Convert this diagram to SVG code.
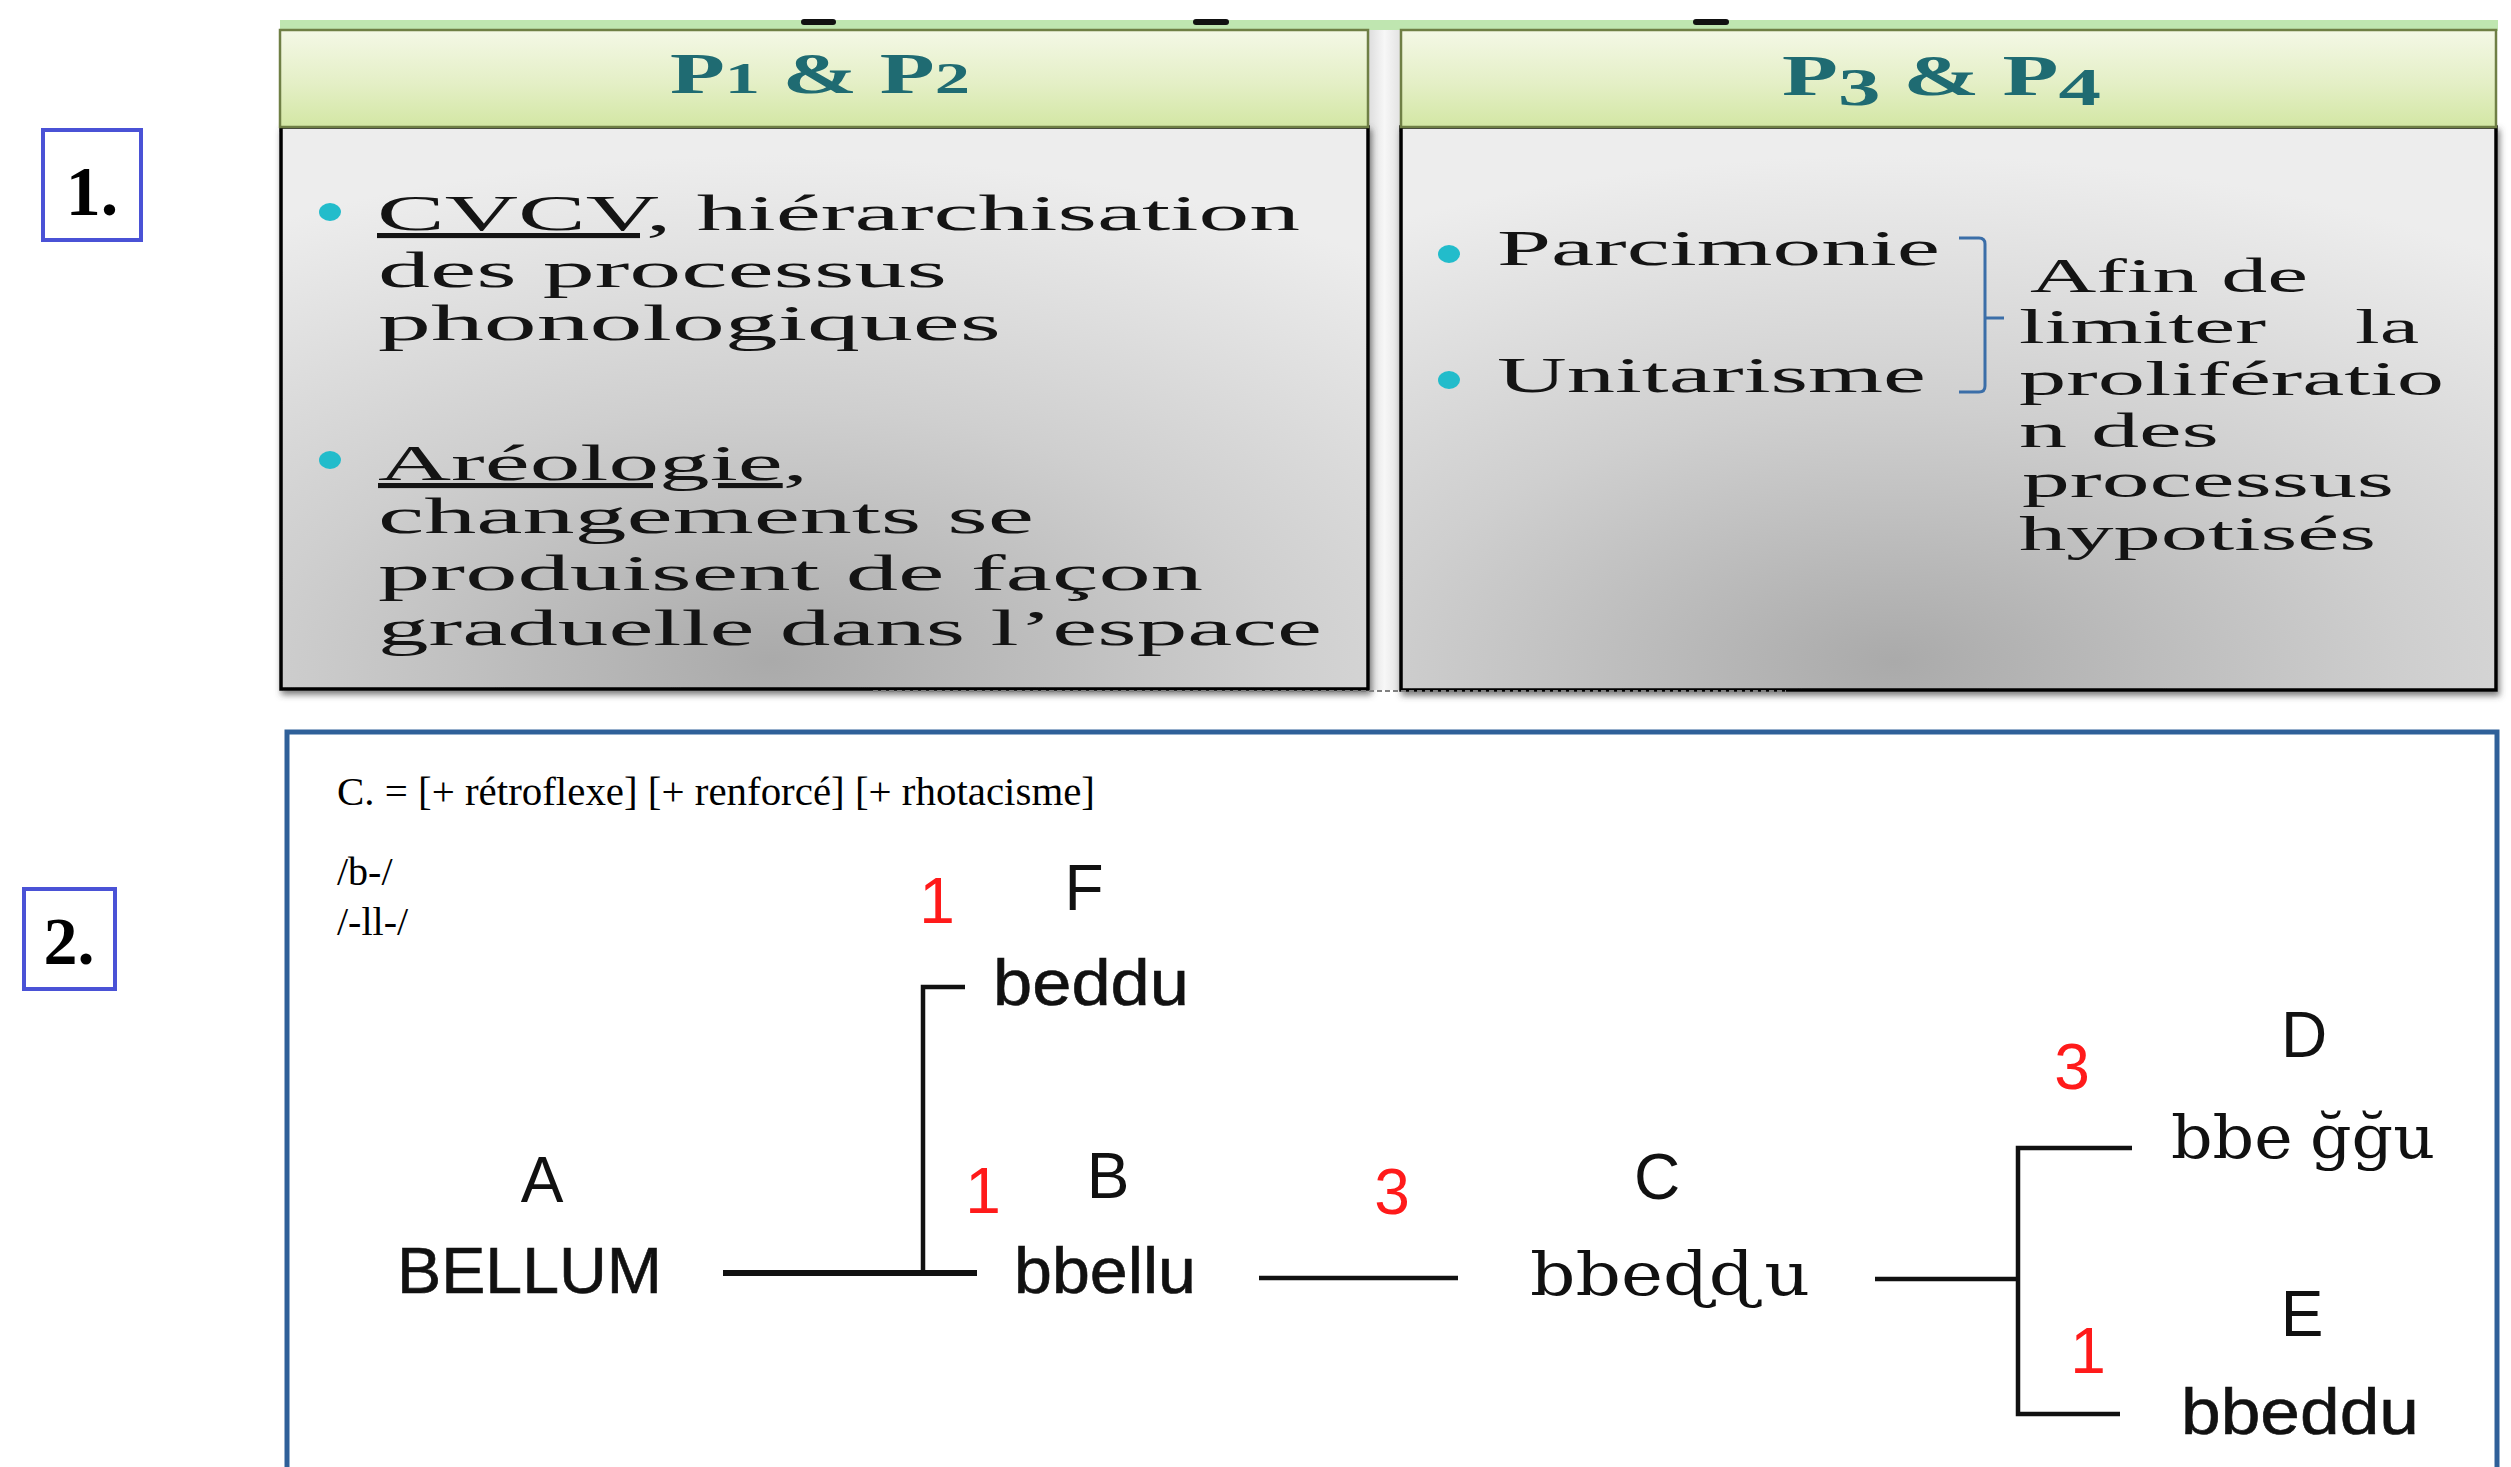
<svg xmlns="http://www.w3.org/2000/svg" width="2511" height="1467" viewBox="0 0 2511 1467">
<defs>
  <linearGradient id="hdr" x1="0" y1="0" x2="0" y2="1">
    <stop offset="0" stop-color="#f4f8e6"/>
    <stop offset="0.55" stop-color="#e4efc6"/>
    <stop offset="1" stop-color="#d3e7a4"/>
  </linearGradient>
  <radialGradient id="body" cx="0.45" cy="1" r="0.95" fx="0.45" fy="0.95">
    <stop offset="0" stop-color="#aaaaaa"/>
    <stop offset="0.5" stop-color="#cfcfcf"/>
    <stop offset="1" stop-color="#ededed"/>
  </radialGradient>
  <linearGradient id="gap" x1="0" y1="0" x2="1" y2="0">
    <stop offset="0" stop-color="#dcdcdc"/>
    <stop offset="0.5" stop-color="#f7f7f7"/>
    <stop offset="1" stop-color="#e2e2e2"/>
  </linearGradient>
  <filter id="shadow" x="-5%" y="-5%" width="110%" height="115%">
    <feDropShadow dx="2" dy="4" stdDeviation="3" flood-color="#444" flood-opacity="0.7"/>
  </filter>
</defs>
<style>
  .lbl{fill:#fff;stroke:#4a52d6;stroke-width:4}
  .lbltx{font-family:"Liberation Serif",serif;font-weight:bold;font-size:70px;fill:#000;text-anchor:middle}
  .hdrbox{fill:url(#hdr);stroke:#6f7f45;stroke-width:2.5}
  .bodybox{fill:url(#body);stroke:#000;stroke-width:3.5}
  .hdr{font-family:"Liberation Serif",serif;font-weight:bold;font-size:56px;fill:#1f6b72}
  .osn{font-size:44px}
  .bt{font-family:"Liberation Serif",serif;font-size:51px;fill:#141414}
  .bt2{font-family:"Liberation Serif",serif;font-size:49px;fill:#141414}
  .ul{text-decoration:underline}
  .bul{fill:#22bccb}
  .note{font-family:"Liberation Serif",serif;font-size:40px;fill:#000}
  .tl{font-family:"Liberation Sans",Arial,sans-serif;font-size:64px;fill:#111;text-anchor:middle}
  .tw{font-family:"Liberation Sans",Arial,sans-serif;font-size:64px;fill:#111;stroke:#111;stroke-width:0.6}
  .ipa{font-family:"DejaVu Serif",serif;font-size:60px;fill:#111}
  .num{font-family:"Liberation Sans",Arial,sans-serif;font-size:64px;fill:#ff1a1a;text-anchor:middle}
  .cn{stroke:#111;stroke-width:4.5;fill:none}
</style>
<rect width="2511" height="1467" fill="#fff"/>

<!-- section labels -->
<g id="label-1">
  <rect class="lbl" x="43" y="130" width="98" height="110"/>
  <text class="lbltx" x="92" y="215">1.</text>
</g>
<g id="label-2">
  <rect class="lbl" x="24" y="889" width="91" height="100"/>
  <text class="lbltx" x="69" y="964" style="font-size:68px">2.</text>
</g>

<!-- top band -->
<g id="top-band">
  <rect x="280" y="20" width="2218" height="11" fill="#bfe6b0"/>
  <rect x="801" y="19" width="35" height="6" rx="3" fill="#111"/>
  <rect x="1193" y="19" width="36" height="6" rx="3" fill="#111"/>
  <rect x="1693" y="19" width="36" height="6" rx="3" fill="#111"/>
  <rect x="1368" y="30" width="33" height="660" fill="url(#gap)"/>
</g>

<!-- panel P1 & P2 -->
<g id="panel-p1p2">
  <rect class="bodybox" x="281" y="127" width="1087" height="562" filter="url(#shadow)"/>
  <rect class="hdrbox" x="280" y="30" width="1088" height="97"/>
  <text class="hdr" x="670" y="93" textLength="300" lengthAdjust="spacingAndGlyphs">P<tspan class="osn">1</tspan> &amp; P<tspan class="osn">2</tspan></text>
  <ellipse class="bul" cx="330" cy="212" rx="11" ry="9"/>
  <text class="bt" x="377" y="230" textLength="923" lengthAdjust="spacingAndGlyphs"><tspan class="ul">CVCV,</tspan> hiérarchisation</text>
  <text class="bt" x="378" y="287" textLength="569" lengthAdjust="spacingAndGlyphs">des processus</text>
  <text class="bt" x="378" y="340" textLength="623" lengthAdjust="spacingAndGlyphs">phonologiques</text>
  <ellipse class="bul" cx="330" cy="460" rx="11" ry="9"/>
  <text class="bt" x="378" y="480" textLength="430" lengthAdjust="spacingAndGlyphs"><tspan class="ul">Aréologie</tspan>,</text>
  <text class="bt" x="378" y="533" textLength="656" lengthAdjust="spacingAndGlyphs">changements se</text>
  <text class="bt" x="378" y="590" textLength="825" lengthAdjust="spacingAndGlyphs">produisent de façon</text>
  <text class="bt" x="378" y="645" textLength="944" lengthAdjust="spacingAndGlyphs">graduelle dans l’espace</text>
</g>

<!-- panel P3 & P4 -->
<g id="panel-p3p4">
  <rect class="bodybox" x="1401" y="127" width="1095" height="563" filter="url(#shadow)"/>
  <rect class="hdrbox" x="1401" y="30" width="1095" height="97"/>
  <text class="hdr" x="1782" y="95" textLength="319" lengthAdjust="spacingAndGlyphs">P<tspan style="font-size:52px" dy="10">3</tspan><tspan dy="-10"> &amp; P</tspan><tspan style="font-size:52px" dy="10">4</tspan></text>
  <ellipse class="bul" cx="1449" cy="254" rx="11" ry="9"/>
  <text class="bt" x="1497" y="265" textLength="443" lengthAdjust="spacingAndGlyphs">Parcimonie</text>
  <ellipse class="bul" cx="1449" cy="380" rx="11" ry="9"/>
  <text class="bt" x="1497" y="392" textLength="429" lengthAdjust="spacingAndGlyphs">Unitarisme</text>
  <path d="M1959,238 L1979,238 Q1985,238 1985,244 L1985,386 Q1985,392 1979,392 L1959,392 M1985,318 L2004,318" fill="none" stroke="#3b6ea8" stroke-width="3"/>
  <text class="bt2" x="2030" y="292" textLength="278" lengthAdjust="spacingAndGlyphs">Afin de</text>
  <text class="bt2" x="2019" y="343" textLength="247" lengthAdjust="spacingAndGlyphs">limiter</text>
  <text class="bt2" x="2355" y="343" textLength="64" lengthAdjust="spacingAndGlyphs">la</text>
  <text class="bt2" x="2019" y="395" textLength="425" lengthAdjust="spacingAndGlyphs">prolifératio</text>
  <text class="bt2" x="2019" y="447" textLength="200" lengthAdjust="spacingAndGlyphs">n des</text>
  <text class="bt2" x="2022" y="497" textLength="372" lengthAdjust="spacingAndGlyphs">processus</text>
  <text class="bt2" x="2019" y="550" textLength="357" lengthAdjust="spacingAndGlyphs">hypotisés</text>
  <line x1="873" y1="691" x2="1786" y2="691" stroke="#808080" stroke-width="2" stroke-dasharray="5 3"/>
</g>

<!-- panel 2 frame and notes -->
<g id="panel-tree">
  <rect x="287" y="732" width="2210" height="800" fill="none" stroke="#2f6099" stroke-width="5"/>
  <text class="note" x="337" y="805" textLength="758" lengthAdjust="spacingAndGlyphs">C. = [+ rétroflexe] [+ renforcé] [+ rhotacisme]</text>
  <text class="note" x="337" y="885">/b-/</text>
  <text class="note" x="337" y="935">/-ll-/</text>
</g>

<!-- connectors -->
<g id="connectors">
  <path class="cn" d="M723,1273 L977,1273" style="stroke-width:6"/>
  <path class="cn" d="M923,1273 L923,987 L965,987"/>
  <path class="cn" d="M1259,1278 L1458,1278"/>
  <path class="cn" d="M1875,1279 L2018,1279"/>
  <path class="cn" d="M2132,1148 L2018,1148 L2018,1414 L2120,1414"/>
  <text class="num" x="937" y="923">1</text>
  <text class="num" x="983" y="1213">1</text>
  <text class="num" x="1392" y="1214">3</text>
  <text class="num" x="2072" y="1089">3</text>
  <text class="num" x="2088" y="1373">1</text>
</g>

<!-- nodes -->
<g id="node-A">
  <text class="tl" x="542" y="1202">A</text>
  <text class="tw" x="397" y="1293" textLength="265" lengthAdjust="spacingAndGlyphs">BELLUM</text>
</g>
<g id="node-F">
  <text class="tl" x="1084" y="910">F</text>
  <text class="tw" x="993" y="1005" textLength="196" lengthAdjust="spacingAndGlyphs">beddu</text>
</g>
<g id="node-B">
  <text class="tl" x="1108" y="1198">B</text>
  <text class="tw" x="1014" y="1293" textLength="182" lengthAdjust="spacingAndGlyphs">bbellu</text>
</g>
<g id="node-C">
  <text class="tl" x="1657" y="1199">C</text>
  <text class="ipa" x="1530" y="1295" textLength="280" lengthAdjust="spacingAndGlyphs">bbeɖɖ<tspan dx="8">u</tspan></text>
</g>
<g id="node-D">
  <text class="tl" x="2304" y="1057">D</text>
  <text class="ipa" x="2171" y="1158" textLength="264" lengthAdjust="spacingAndGlyphs">bbe<tspan dx="16">ğğu</tspan></text>
</g>
<g id="node-E">
  <text class="tl" x="2302" y="1336">E</text>
  <text class="tw" x="2181" y="1434" textLength="238" lengthAdjust="spacingAndGlyphs">bbeddu</text>
</g>
</svg>
